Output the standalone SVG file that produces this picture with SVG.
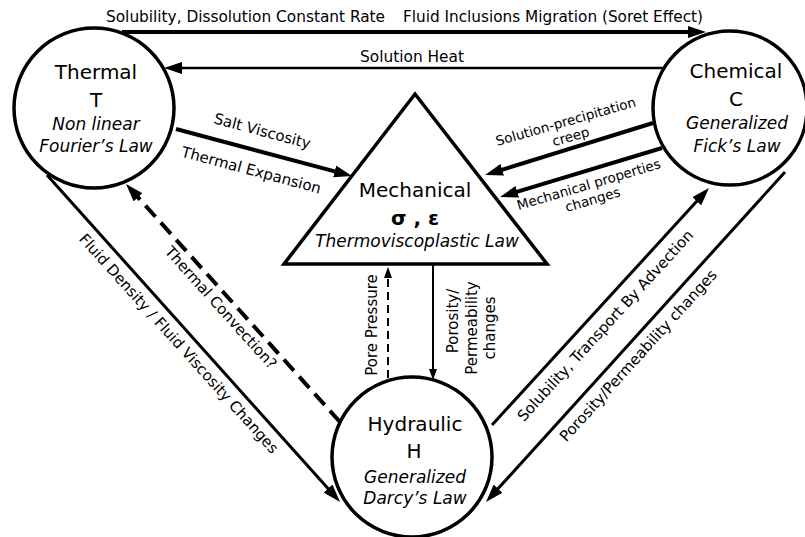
<svg xmlns="http://www.w3.org/2000/svg" width="805" height="537" viewBox="0 0 805 537">
<style>
  .node { fill: #fff; stroke: #000; stroke-width: 3.5; }
  .title { font-family: "DejaVu Sans", Verdana, sans-serif; font-size: 20px; text-anchor: middle; fill: #000; }
  .law { font-family: "DejaVu Sans", Verdana, sans-serif; font-size: 17px; font-style: italic; text-anchor: middle; fill: #000; }
  .sym { font-family: "DejaVu Sans", Verdana, sans-serif; font-size: 20px; font-weight: bold; text-anchor: middle; fill: #000; }
  .lbl { font-family: "DejaVu Sans", Verdana, sans-serif; font-size: 15px; text-anchor: middle; fill: #000; }
  .lbls { font-family: "DejaVu Sans", Verdana, sans-serif; font-size: 13.5px; text-anchor: middle; fill: #000; }
  .cond { font-family: "DejaVu Sans Condensed", "DejaVu Sans", sans-serif; font-size: 15px; fill: #000; }
  .ln { fill: none; stroke: #000; stroke-width: 3; }
  .thick { stroke-width: 4; }
  .mid { stroke-width: 2.5; }
  .thin { stroke-width: 2; }
  .dash { stroke-dasharray: 15 8; }
  .dashs { stroke-dasharray: 8 5; }
</style>
<defs>
  <marker id="ah" markerUnits="userSpaceOnUse" markerWidth="18" markerHeight="12" viewBox="0 0 18 12" refX="4" refY="6" orient="auto">
    <path d="M0,0 L18,6 L0,12 z" fill="#000"/>
  </marker>
  <marker id="as" markerUnits="userSpaceOnUse" markerWidth="11" markerHeight="8" viewBox="0 0 11 8" refX="3" refY="4" orient="auto">
    <path d="M0,0 L11,4 L0,8 z" fill="#000"/>
  </marker>
</defs>

<g id="connectors">
  <path class="ln thick" d="M122,32 H692" marker-end="url(#ah)"/>
  <path class="ln mid" d="M664,68 H178" marker-end="url(#ah)"/>
  <path class="ln thick" d="M176,129 L338.5,172.4" marker-end="url(#ah)"/>
  <path class="ln thick" d="M653,123 L498.4,170.9" marker-end="url(#ah)"/>
  <path class="ln thick" d="M662,148 L513.4,192.9" marker-end="url(#ah)"/>
  <path class="ln" d="M47,175 L330.7,491.6" marker-end="url(#ah)"/>
  <path class="ln thick dash" d="M340,422 L135.4,194.4" marker-end="url(#ah)"/>
  <path class="ln thin dashs" d="M388,378 V275" marker-end="url(#as)"/>
  <path class="ln thin" d="M433,264 V372" marker-end="url(#as)"/>
  <path class="ln" d="M492,425 L699.5,198.3" marker-end="url(#ah)"/>
  <path class="ln" d="M785,172 L495.4,491.6" marker-end="url(#ah)"/>

  <text class="cond" x="106" y="22" textLength="279" lengthAdjust="spacingAndGlyphs">Solubility, Dissolution Constant Rate</text>
  <text class="cond" x="403" y="22" textLength="300" lengthAdjust="spacingAndGlyphs">Fluid Inclusions Migration (Soret Effect)</text>
  <text class="cond" x="360" y="62" textLength="104" lengthAdjust="spacingAndGlyphs">Solution Heat</text>
  <text class="lbl" transform="translate(261,136) rotate(15)">Salt Viscosity</text>
  <text class="lbl" transform="translate(250,175) rotate(15)">Thermal Expansion</text>
  <text class="lbls" transform="translate(567,126) rotate(-16)">Solution-precipitation</text>
  <text class="lbls" transform="translate(572,141) rotate(-16)">creep</text>
  <text class="lbls" transform="translate(590,189) rotate(-16.5)">Mechanical properties</text>
  <text class="lbls" transform="translate(594,204) rotate(-16.5)">changes</text>
  <text class="lbl" transform="translate(175,347) rotate(48)">Fluid Density / Fluid Viscosity Changes</text>
  <text class="lbl" transform="translate(217,311) rotate(48)">Thermal Convection?</text>
  <text class="lbl" transform="translate(377,325) rotate(-90)">Pore Pressure</text>
  <text class="lbl" transform="translate(458,321) rotate(-90)">Porosity/</text>
  <text class="lbl" transform="translate(476.5,328) rotate(-90)">Permeability</text>
  <text class="lbl" transform="translate(494.5,328) rotate(-90)">changes</text>
  <text class="lbl" transform="translate(609,329) rotate(-47.6)">Solubility, Transport By Advection</text>
  <text class="lbl" transform="translate(642,359) rotate(-47.8)">Porosity/Permeability changes</text>
</g>

<g id="thermal">
  <circle class="node" cx="94" cy="108" r="80"/>
  <text class="title" x="96" y="79">Thermal</text>
  <text class="title" x="96" y="107">T</text>
  <text class="law" x="96" y="130">Non linear</text>
  <text class="law" x="96" y="152">Fourier’s Law</text>
</g>

<g id="chemical">
  <circle class="node" cx="730" cy="108" r="77"/>
  <text class="title" x="736" y="78">Chemical</text>
  <text class="title" x="736" y="106">C</text>
  <text class="law" x="737" y="129">Generalized</text>
  <text class="law" x="737" y="152">Fick’s Law</text>
</g>

<g id="mechanical">
  <path class="node" d="M415,94 L547,264 L284,264 Z" stroke-linejoin="miter"/>
  <text class="title" x="415" y="197">Mechanical</text>
  <text class="sym" x="415" y="225">σ , ε</text>
  <text class="law" x="417" y="247">Thermoviscoplastic Law</text>
</g>

<g id="hydraulic">
  <circle class="node" cx="412" cy="457" r="80"/>
  <text class="title" x="415" y="431">Hydraulic</text>
  <text class="title" x="414" y="458">H</text>
  <text class="law" x="415" y="483">Generalized</text>
  <text class="law" x="415" y="504">Darcy’s Law</text>
</g>
</svg>
